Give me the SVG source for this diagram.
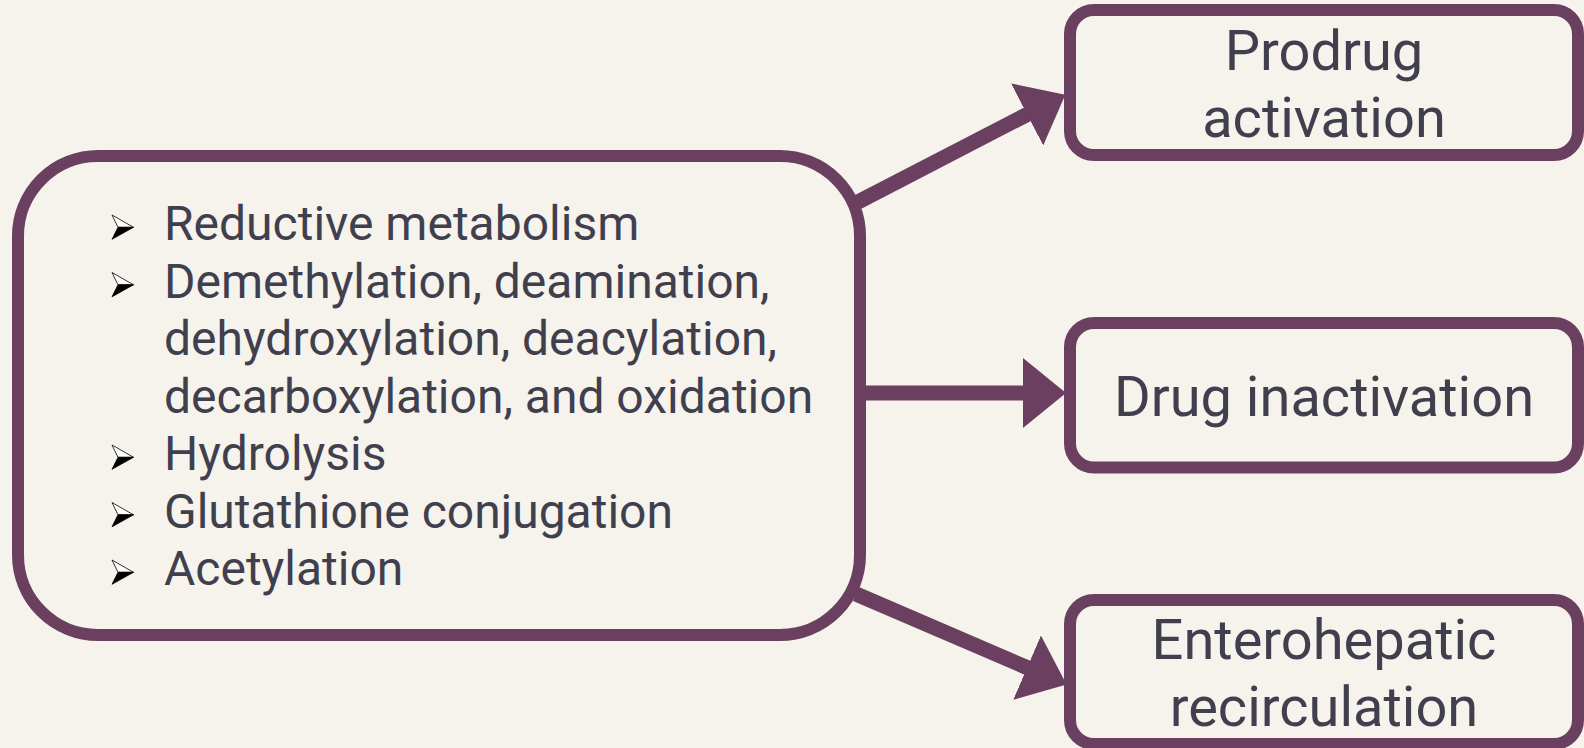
<svg xmlns="http://www.w3.org/2000/svg" width="1584" height="748" viewBox="0 0 1584 748">
  <defs>
    <style>
      .box { fill: #f6f2ec; stroke: #6b3f60; stroke-width: 12; }
      .link { fill: none; stroke: #6b3f60; stroke-width: 15; }
      .item { font-family: Roboto, "Liberation Sans", sans-serif; font-size: 48px; fill: #403f4d; }
      .label { font-family: Roboto, "Liberation Sans", sans-serif; font-size: 56px; fill: #403f4d; text-anchor: middle; }
    </style>
    <marker id="head" markerUnits="userSpaceOnUse" viewBox="0 0 43 70" refX="1" refY="35" markerWidth="43" markerHeight="70" orient="auto">
      <path d="M0,0 L43,35 L0,70 Z" fill="#6b3f60"/>
    </marker>
    <!-- 3D arrowhead bullet: light upper half, dark lower half -->
    <g id="bullet">
      <path d="M0,-25 L21.5,-12.7 L6,-12.7 Z" fill="#ffffff" stroke="#000000" stroke-width="0.8" stroke-linejoin="round"/>
      <path d="M0,-0.7 L21.5,-12.7 L6,-12.7 Z" fill="#000000" stroke="#000000" stroke-width="0.8" stroke-linejoin="round"/>
    </g>
  </defs>

  <rect width="1584" height="748" fill="#f6f2ec"/>

  <!-- connectors -->
  <g id="connectors">
    <path class="link" d="M858,202 L1028,114" marker-end="url(#head)"/>
    <path class="link" d="M860,393 L1024,393" marker-end="url(#head)"/>
    <path class="link" d="M856,594 L1028,668" marker-end="url(#head)"/>
  </g>

  <!-- source node: list of gut microbial reactions -->
  <g id="reactions">
    <rect class="box" x="18" y="156" width="842" height="479" rx="80" ry="80"/>
    <use href="#bullet" x="112" y="240"/>
    <use href="#bullet" x="112" y="297.5"/>
    <use href="#bullet" x="112" y="470"/>
    <use href="#bullet" x="112" y="527.5"/>
    <use href="#bullet" x="112" y="585"/>
    <text class="item" x="164" y="240">Reductive metabolism</text>
    <text class="item" x="164" y="297.5">Demethylation, deamination,</text>
    <text class="item" x="164" y="355">dehydroxylation, deacylation,</text>
    <text class="item" x="164" y="412.5">decarboxylation, and oxidation</text>
    <text class="item" x="164" y="470">Hydrolysis</text>
    <text class="item" x="164" y="527.5">Glutathione conjugation</text>
    <text class="item" x="164" y="585">Acetylation</text>
  </g>

  <g id="prodrug">
    <rect class="box" x="1070" y="10" width="508" height="145" rx="24" ry="24"/>
    <text class="label" x="1324" y="69.5">Prodrug</text>
    <text class="label" x="1324" y="136.5">activation</text>
  </g>

  <g id="inactivation">
    <rect class="box" x="1070" y="323" width="508" height="144.5" rx="24" ry="24"/>
    <text class="label" x="1324" y="415.5">Drug inactivation</text>
  </g>

  <g id="recirculation">
    <rect class="box" x="1070" y="600" width="508" height="144" rx="24" ry="24"/>
    <text class="label" x="1324" y="659">Enterohepatic</text>
    <text class="label" x="1324" y="725.5">recirculation</text>
  </g>
</svg>
